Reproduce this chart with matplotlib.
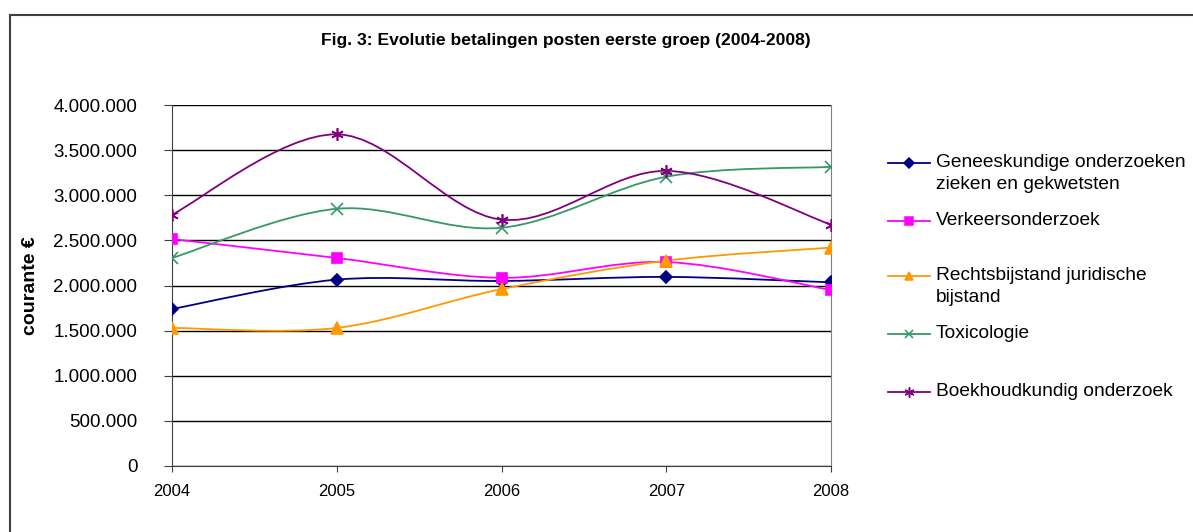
import numpy as np
import matplotlib
matplotlib.use("Agg")
import matplotlib.pyplot as plt
from matplotlib.path import Path
from matplotlib.patches import PathPatch
from matplotlib.lines import Line2D
from matplotlib.ticker import FuncFormatter

plt.rcParams['font.family'] = ['Liberation Sans', 'DejaVu Sans']

# data
years = [2004, 2005, 2006, 2007, 2008]
geneeskundig = [1740000, 2065000, 2050000, 2095000, 2035000]
verkeer = [2515000, 2305000, 2085000, 2260000, 1950000]
rechtsbijstand = [1530000, 1530000, 1960000, 2275000, 2420000]
toxicologie = [2305000, 2850000, 2640000, 3205000, 3315000]
boekhoud = [2785000, 3675000, 2730000, 3270000, 2675000]

series = [
    ("Geneeskundige onderzoeken\nzieken en gekwetsten", geneeskundig, "#000080", "D", 6),
    ("Verkeersonderzoek", verkeer, "#FF00FF", "s", 7),
    ("Rechtsbijstand juridische\nbijstand", rechtsbijstand, "#FF9900", "^", 8),
    ("Toxicologie", toxicologie, "#339966", "x", 8),
    ("Boekhoudkundig onderzoek", boekhoud, "#800080", (6, 2, 0), 9),
]


def smooth_path(xs, ys):
    # Excel-style smoothed line as cubic Bezier segments
    pts = np.column_stack([xs, ys]).astype(float)
    n = len(pts)
    verts = [pts[0]]
    codes = [Path.MOVETO]
    for i in range(n - 1):
        p0 = pts[max(i - 1, 0)]
        p1 = pts[i]
        p2 = pts[i + 1]
        p3 = pts[min(i + 2, n - 1)]
        c1 = p1 + (p2 - p0) / 6.0
        c2 = p2 - (p3 - p1) / 6.0
        verts += [c1, c2, p2]
        codes += [Path.CURVE4] * 3
    return Path(verts, codes)


fig = plt.figure(figsize=(11.93, 5.32), dpi=100)
W, H = 1193, 532
ax = fig.add_axes([172 / W, 1 - 466 / H, (831 - 172) / W, (466 - 105) / H])

for label, vals, color, marker, ms in series:
    ax.add_patch(PathPatch(smooth_path(years, vals), facecolor="none",
                           edgecolor=color, lw=1.3, zorder=3))
    ax.plot(years, vals, linestyle="none", marker=marker, color=color,
            markersize=ms, markeredgewidth=1.2, zorder=4)

ax.set_xlim(2004, 2008)
ax.set_ylim(0, 4000000)
ax.set_xticks(years)
ax.set_yticks(np.arange(0, 4000001, 500000))
ax.yaxis.set_major_formatter(FuncFormatter(lambda v, p: f"{int(v):,}".replace(",", ".")))
ax.grid(axis="y", color="black", lw=1)
ax.set_axisbelow(True)
ax.spines["top"].set_visible(False)
ax.spines["right"].set_color("#808080")
ax.spines["left"].set_color("#404040")
ax.spines["bottom"].set_color("#404040")
ax.tick_params(axis="y", labelsize=13.5, direction="out", length=6, color="#404040", pad=19)
ax.tick_params(axis="x", labelsize=12, direction="out", length=4, color="#404040", pad=9)
ax.set_ylabel("courante €", fontsize=14, fontweight="bold")
ax.yaxis.set_label_coords((39 - 172) / (831 - 172), 0.5)

fig.text(566 / W, 1 - 40 / H, "Fig. 3: Evolutie betalingen posten eerste groep (2004-2008)",
         ha="center", va="center", fontsize=12.6, fontweight="bold")

# legend drawn by hand to follow the Excel spacing
leg_y = [163, 221, 276, 334, 392]
for (label, vals, color, marker, ms), yy in zip(series, leg_y):
    fy = 1 - yy / H
    fig.add_artist(Line2D([888 / W, 930 / W], [fy, fy], color=color, lw=1.3,
                          transform=fig.transFigure))
    fig.add_artist(Line2D([909 / W], [fy], color=color, marker=marker, markersize=ms * 0.8,
                          markeredgewidth=1.1, transform=fig.transFigure))
    fig.text(936 / W, fy + 9 / H, label, ha="left", va="top", fontsize=13.8,
             linespacing=1.42)

# chart border (only top and left edges fall inside the picture)
fig.add_artist(Line2D([9.5 / W, 1.0], [1 - 15 / H, 1 - 15 / H], color="#404040", lw=1.5,
                      transform=fig.transFigure))
fig.add_artist(Line2D([9.5 / W, 9.5 / W], [0, 1 - 15 / H], color="#404040", lw=1.5,
                      transform=fig.transFigure))

fig.savefig("out.png", dpi=100)
